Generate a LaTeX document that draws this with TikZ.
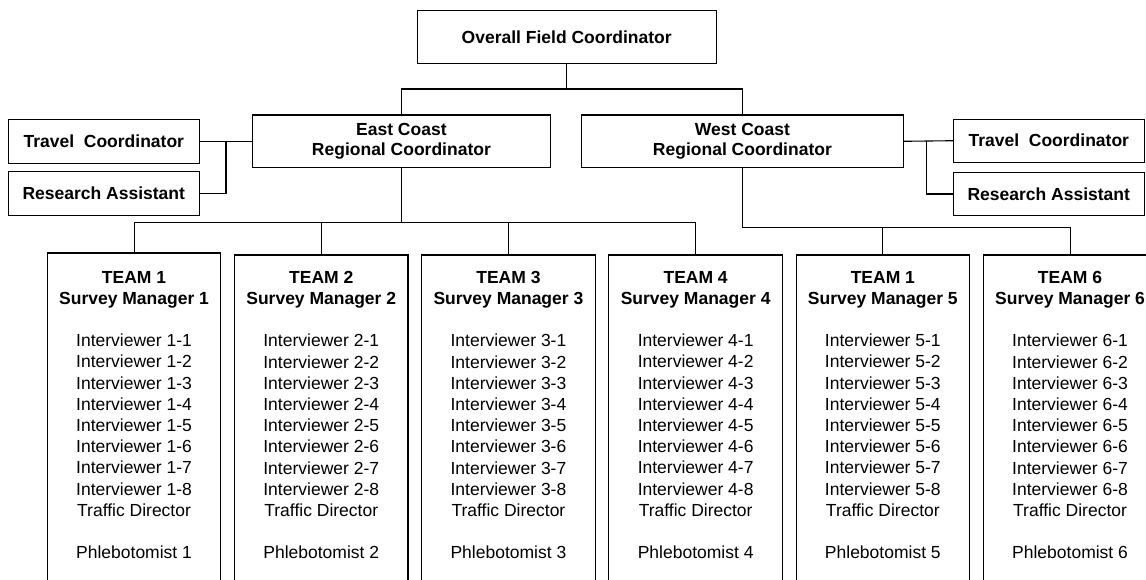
\documentclass[tikz,border=0pt]{standalone}
\usepackage{fontspec}
\setmainfont{Liberation Sans}
\begin{document}
\begin{tikzpicture}[x=1pt,y=-1pt,
  every node/.style={inner sep=0pt, outer sep=0pt},
  hbox/.style={draw, line width=1.1pt, font=\fontsize{17.5}{20.7}\selectfont\bfseries, align=center},
  teambox/.style={draw, line width=1.1pt, anchor=north west, minimum width=173.5pt, minimum height=340pt},
  teamtext/.style={anchor=north, font=\fontsize{17.5}{21.2}\selectfont, align=center},
  conn/.style={line width=1.1pt}]
\useasboundingbox (0,0) rectangle (1146,579);
\clip (0,0) rectangle (1146,579);
% top boxes
\node[hbox, minimum width=299pt, minimum height=53pt] (ofc) at (566.7,36.8) {Overall Field Coordinator};
\node[hbox, minimum width=297.3pt, minimum height=52.7pt] (east) at (401.4,141.3) {East Coast\\Regional Coordinator};
\node[hbox, minimum width=321.3pt, minimum height=52.7pt] (west) at (742.4,141.3) {West Coast\\Regional Coordinator};
\node[hbox, minimum width=191pt, minimum height=44pt] (tl) at (103.8,141.3) {Travel\ \ Coordinator};
\node[hbox, minimum width=191pt, minimum height=44pt] (rl) at (103.8,193.7) {Research Assistant};
\node[hbox, minimum width=191pt, minimum height=43.3pt] (tr) at (1048.8,140.7) {Travel\ \ Coordinator};
\node[hbox, minimum width=191pt, minimum height=43.3pt] (rr) at (1048.8,194) {Research Assistant};
% team boxes
\node[teambox] (t1) at (47.3,253) {};
\node[teambox] (t2) at (234.5,255) {};
\node[teambox] (t3) at (421.7,255) {};
\node[teambox] (t4) at (608.9,255) {};
\node[teambox] (t5) at (796.1,255) {};
\node[teambox] (t6) at (983.3,255) {};
\foreach \i/\t/\m in {1/1/1,2/2/2,3/3/3,4/4/4,5/1/5,6/6/6}{
  \node[teamtext] (tt\i) at (t\i.north |- 0,271) {\textbf{TEAM \t}\\\textbf{Survey Manager \m}\\[21.2pt]
    Interviewer \m-1\\Interviewer \m-2\\Interviewer \m-3\\Interviewer \m-4\\
    Interviewer \m-5\\Interviewer \m-6\\Interviewer \m-7\\Interviewer \m-8\\
    Traffic Director\\[21.2pt]Phlebotomist \m};
}
% connectors
\coordinate (bt) at (566.7,89);
\draw[conn] (ofc.south) -- (bt);
\draw[conn] (east.north) |- (bt) -| (west.north);
\coordinate (jl) at (226,141.3);
\draw[conn] (east.west) -- (tl.east);
\draw[conn] (rl.east) -| (jl);
\coordinate (jr) at (926.7,141.3);
\draw[conn] (west.east) -- (tr.west);
\draw[conn] (rr.west) -| (jr);
\coordinate (eb) at (401.4,222.5);
\draw[conn] (east.south) -- (eb);
\draw[conn] (t1.north) |- (eb) -| (t4.north);
\draw[conn] (t2.north) -- (t2.north |- eb);
\draw[conn] (t3.north) -- (t3.north |- eb);
\coordinate (wb) at (742.4,227.7);
\draw[conn] (west.south) -- (wb) -| (t6.north);
\draw[conn] (t5.north) -- (t5.north |- wb);
\end{tikzpicture}
\end{document}
